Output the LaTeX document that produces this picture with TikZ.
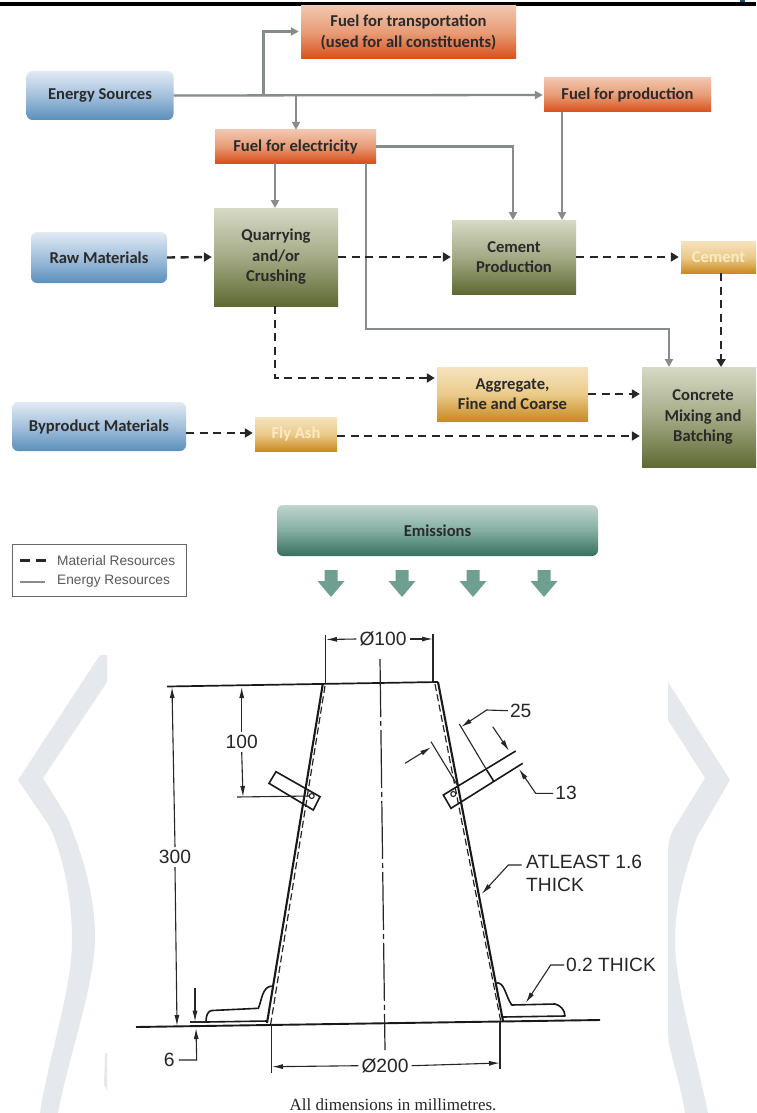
\documentclass[tikz,border=0pt]{standalone}
\usepackage{fontspec}
\setmainfont{Liberation Sans}
\newfontfamily\flowfont{Carlito}
\newfontfamily\capfont{Liberation Serif}
\usetikzlibrary{arrows.meta,calc}
\definecolor{wm}{HTML}{E5E9ED}
\definecolor{gline}{HTML}{868C88}
\definecolor{inkc}{HTML}{2A2A2A}
\definecolor{topblue}{HTML}{1F4E79}
\definecolor{srcT}{HTML}{E2EAF4}\definecolor{srcM}{HTML}{A3C0DC}\definecolor{srcB}{HTML}{5A8FBB}
\definecolor{prcT}{HTML}{D6DAC6}\definecolor{prcM}{HTML}{A3AA85}\definecolor{prcB}{HTML}{5F6A33}
\definecolor{fueT}{HTML}{F2C6AE}\definecolor{fueM}{HTML}{E89B76}\definecolor{fueB}{HTML}{D94F1B}
\definecolor{matT}{HTML}{F6E3BE}\definecolor{matM}{HTML}{EBCB8B}\definecolor{matB}{HTML}{C98A22}
\definecolor{emiT}{HTML}{BFD5CE}\definecolor{emiM}{HTML}{84AEA2}\definecolor{emiB}{HTML}{37705F}
\definecolor{pale}{HTML}{F8EBC6}
\definecolor{arrowgreen}{HTML}{6F9F90}
\tikzset{
  flowbox/.style={inner sep=0pt,font=\flowfont\bfseries\fontsize{16.6}{20.5}\selectfont,align=center,text=inkc},
  srcbox/.style={flowbox,rounded corners=6pt,draw=none,top color=srcT,bottom color=srcB,middle color=srcM},
  procbox/.style={flowbox,draw=none,top color=prcT,bottom color=prcB,middle color=prcM},
  fuelbox/.style={flowbox,draw=none,top color=fueT,bottom color=fueB,middle color=fueM},
  matbox/.style={flowbox,draw=none,top color=matT,bottom color=matB,middle color=matM},
  emitbox/.style={flowbox,rounded corners=6pt,draw=none,top color=emiT,bottom color=emiB,middle color=emiM},
  energy/.style={draw=gline,line width=2.3pt,-{Triangle[length=8pt,width=8pt]}},
  energyplain/.style={draw=gline,line width=2pt},
  material/.style={draw=black!85,line width=2.4pt,dash pattern=on 8pt off 5.5pt,-{Triangle[length=8pt,width=9pt]}},
  materialplain/.style={draw=black!85,line width=2.4pt,dash pattern=on 10pt off 6pt},
  wall/.style={draw=black!90,line width=2.1pt},
  innerwall/.style={draw=black!85,line width=1.2pt,dash pattern=on 7pt off 3.5pt},
  thinline/.style={draw=black!85,line width=1.1pt},
  dimtip/.style={thinline,-{Latex[length=11pt,width=5pt]}},
  dimlabel/.style={inner sep=0pt,font=\fontsize{19.2}{22.5}\selectfont,text=black!85,align=left},
  legendlabel/.style={inner sep=0pt,anchor=west,font=\fontsize{13.7}{15}\selectfont,text=black!65},
}
\begin{document}
\begin{tikzpicture}[x=1pt,y=-1pt]
\useasboundingbox (0,0) rectangle (756,1113);
\fill[white] (0,0) rectangle (756,1113);
% watermark
\fill[wm] (100,655) -- (107,655) -- (107,682) -- (43,778) -- (67,817) .. controls (85,860) and (95,900) .. (95,937) .. controls (95,985) and (70,1050) .. (58,1113) -- (40,1113) .. controls (50,1050) and (72,990) .. (72,940) .. controls (72,890) and (60,850) .. (50,827) -- (18,780) -- cycle;
\fill[wm] (105,1053) -- (107,1053) -- (107,1090) -- (104,1085) -- cycle;
\fill[wm] (668,682) -- (730,780) -- (697,837) .. controls (685,870) and (675,905) .. (675,940) .. controls (675,985) and (695,1050) .. (708,1113) -- (685,1113) .. controls (680,1080) and (668,1050) .. (668,1033) -- (668,853) .. controls (668,840) and (672,832) .. (673,830) -- (705,778) -- (668,720) -- cycle;
% top band
\fill[black] (0,2) rectangle (756,6);
\fill[topblue] (740,0) rectangle (745,1.6);

% flow boxes
\node[srcbox,minimum width=147pt,minimum height=49pt] (energy) at (100,95.5) {Energy Sources};
\node[srcbox,minimum width=136pt,minimum height=51pt] (raw) at (99,257.5) {Raw Materials};
\node[srcbox,minimum width=174pt,minimum height=49pt] (byp) at (99,426.5) {Byproduct Materials};
\node[fuelbox,minimum width=215pt,minimum height=53pt] (ftrans) at (408.5,32.5) {Fuel for transportation\\(used for all constituents)};
\node[fuelbox,minimum width=167pt,minimum height=34pt] (fprod) at (627.5,95) {Fuel for production};
\node[fuelbox,minimum width=161pt,minimum height=33pt] (felec) at (295.5,146.5) {Fuel for electricity};
\node[procbox,minimum width=124pt,minimum height=98pt] (quarry) at (276,257) {Quarrying\\and/or\\Crushing};
\node[procbox,minimum width=124pt,minimum height=74pt] (cementp) at (514,257) {Cement\\Production};
\node[matbox,minimum width=75pt,minimum height=32pt,text=pale] (cement) at (718.5,257) {Cement};
\node[procbox,minimum width=114pt,minimum height=100pt] (concrete) at (699,417) {\hspace*{8pt}Concrete\\\hspace*{8pt}Mixing and\\\hspace*{8pt}Batching};
\node[matbox,minimum width=151pt,minimum height=54pt] (agg) at (512.5,394) {Aggregate,\\Fine and Coarse};
\node[matbox,minimum width=82pt,minimum height=34pt,text=pale] (fly) at (296,434) {Fly Ash};
\node[emitbox,minimum width=321pt,minimum height=51pt] (emis) at (437.5,530.5) {Emissions};

% energy connectors
\coordinate (brT) at (263.5,95);
\coordinate (brE) at (296,95);
\draw[energy] (energy.east) -- ([xshift=-1pt]fprod.west);
\draw[energy] (brT) |- ([xshift=-2pt]ftrans.west |- 0,31.5);
\draw[energy] (brE) -- (brE |- felec.north);
\draw[energy] (275,163) -- (275,208);
\draw[energy] (felec.east) -| (513,220);
\draw[energy] (562,112) -- (562,220);
\draw[energy] (366,163) |- (669,329) -- (669,367);

% material connectors
\draw[material] (raw.east) -- ([xshift=-2pt]quarry.west);
\draw[material] (quarry.east) -- ([xshift=-1pt]cementp.west);
\draw[material] (cementp.east) -- ([xshift=-2pt]cement.west);
\draw[material] (721,273) -- (721,367);
\draw[material] (275,306) |- ([xshift=-2pt]agg.west |- 0,378);
\draw[material] (agg.east) -- ([xshift=-2pt]concrete.west |- agg.east);
\draw[material] (186,433) -- ([xshift=-2pt]fly.west |- 0,433);
\draw[material] (fly.east |- 0,436) -- ([xshift=-2pt]concrete.west |- 0,436);

% legend
\node[draw=black!60,line width=1pt,minimum width=174pt,minimum height=52pt,inner sep=0pt] (legend) at (99,570) {};
\draw[materialplain] (20,560.5) -- (46,560.5);
\draw[energyplain] (20,582) -- (45,582);
\node[legendlabel] (lm) at (57,560.5) {Material Resources};
\node[legendlabel] (le) at (57,581.5) {Energy Resources};

% emission arrows
\foreach \ax in {331,402,473,544}{
  \fill[arrowgreen] (\ax-6.5,570) -- (\ax+6.5,570) -- (\ax+6.5,581) -- (\ax+13.5,581) -- (\ax,597) -- (\ax-13.5,581) -- (\ax-6.5,581) -- cycle;
}

% cone drawing
\draw[line width=1.7pt,draw=black!90] (167,686.5) -- (438,682);
\draw[wall] (322.7,684.5) -- (267,1023);
\draw[innerwall] (325,686) -- (270.7,1024);
\draw[wall] (438,682) -- (503,1021);
\draw[innerwall] (435,684) -- (500.7,1021);
\draw[line width=1.9pt,draw=black!90] (136,1027) -- (600,1020);
\draw[draw=black!85,line width=1.2pt,dash pattern=on 58pt off 4pt on 5pt off 4pt] (380,659) -- (385,1050);

% feet
\draw[line width=1.6pt,draw=black!90,line join=round] (267.3,1021) -- (206,1022) .. controls (206,1015) and (208,1010.7) .. (212,1010.5) -- (258.3,1008.3) .. controls (262,1000) and (262,987) .. (271.7,986);
\draw[line width=1.6pt,draw=black!90,line join=round] (496.7,982.7) .. controls (505,983) and (505,995) .. (511.7,1005) -- (555,1004) .. controls (560,1005) and (565,1010) .. (565,1016) -- (502.7,1017);

% left handle
\draw[line width=1.6pt,draw=black!90] (276,771.7) -- (320,796.7) -- (313.3,810) -- (269,783.3) -- cycle;
\draw[line width=1.1pt,draw=black!85] (311.7,796) circle (2.5);
% right handle
\draw[line width=1.6pt,draw=black!90] (515.7,751) -- (443.3,795) -- (451,808.3) -- (522.7,763.3);
\draw[line width=1.6pt,draw=black!90] (486.7,770) -- (494,781.7);
\draw[line width=1.1pt,draw=black!85] (453.3,794) circle (2.5);

% dimension 100 dia
\node[dimlabel] (d100) at (383,639) {Ø100};
\draw[thinline] (325.7,635) -- (325.7,684);
\draw[thinline] (433,634) -- (433,682);
\draw[dimtip] (d100.west) ++(-3,0) -- (326,639.5);
\draw[dimtip] (d100.east) ++(3,0) -- (433,639);
% 300
\node[dimlabel] (d300) at (175,857) {300};
\draw[dimtip] (d300.north) ++(0,-3) -- (172,687);
\draw[dimtip] (d300.south) ++(0,3) -- (177,1026);
% 100
\node[dimlabel] (dh) at (241.7,742) {100};
\draw[dimtip] (dh.north) ++(0,-3) -- (241.7,687);
\draw[dimtip] (dh.south) ++(0,3) -- (243,797);
\draw[thinline] (237,797) -- (310,796);
% 25
\node[dimlabel] (d25) at (520.7,710.7) {25};
\draw[thinline] (459.3,724) -- (486.7,770);
\draw[thinline] (431,741.7) -- (457.3,785);
\draw[dimtip] (405,763.3) -- (431,747.3);
\draw[dimtip] (d25.west) ++(-2,0) -- (486.7,710) -- (461,727);
% 13
\node[dimlabel] (d13) at (566,793.3) {13};
\draw[dimtip] (492.7,726.7) -- (509,750.7);
\draw[dimtip] (d13.west) ++(-2,0) -- (535.7,793.3) -- (519,769);
% thick labels
\node[dimlabel,anchor=north west] (tk) at (526,855) {ATLEAST 1.6\\THICK};
\draw[dimtip] (521.7,865) -- (508.3,865) -- (481.7,894);
\node[dimlabel,anchor=west] (tk2) at (566,965) {0.2 THICK};
\draw[dimtip] (tk2.west) ++(-2,0) -- (550.7,965) -- (525.7,1003);
% 6
\node[dimlabel] (d6) at (169.3,1060) {6};
\draw[dimtip] (195,988) -- (195,1021.7);
\draw[thinline] (190,1022) -- (206,1022);
\draw[dimtip] (d6.east) ++(4,0) -- (196.7,1060) -- (196,1028);
% 200
\node[dimlabel] (d200) at (385,1065.7) {Ø200};
\draw[thinline] (271.7,1024) -- (271.7,1072.7);
\draw[thinline] (500,1022) -- (500,1069);
\draw[dimtip] (d200.west) ++(-3,0) -- (272,1066.7);
\draw[dimtip] (d200.east) ++(3,0) -- (500,1063);
% caption
\node[inner sep=0pt,font=\capfont\fontsize{17}{19}\selectfont,text=black!85] (cap) at (393,1105) {All dimensions in millimetres.};
\end{tikzpicture}
\end{document}
